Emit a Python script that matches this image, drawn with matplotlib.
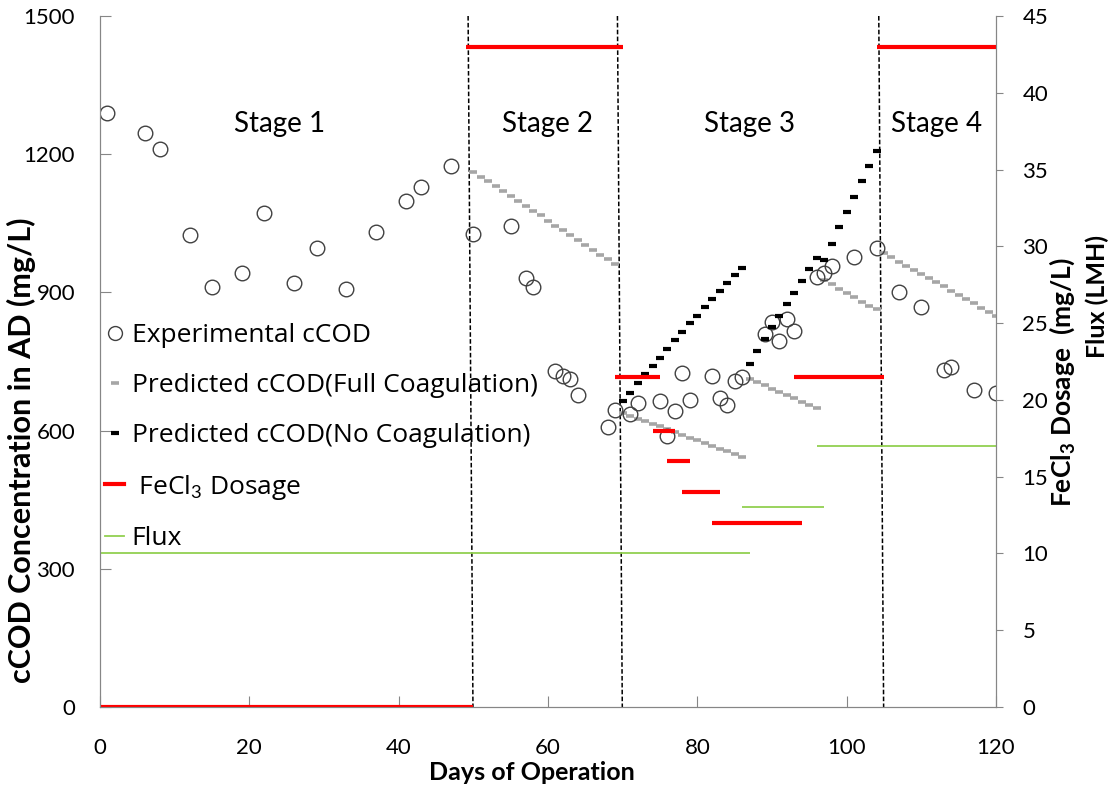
import matplotlib.pyplot as plt
from matplotlib.lines import Line2D

plt.rcParams['font.family'] = ['Lato', 'DejaVu Sans']
plt.rcParams['mathtext.fontset'] = 'custom'
plt.rcParams['mathtext.rm'] = 'Lato'
plt.rcParams['mathtext.bf'] = 'Lato:bold'

# measured cCOD in the AD effluent (mg/L)
exp_days = [1, 6, 8, 12, 15, 19, 22, 26, 29, 33, 37, 41, 43, 47, 50,
            55, 57, 58, 61, 62, 63, 64, 68, 69,
            71, 72, 75, 76, 77, 78, 79, 82, 83, 84, 85, 86,
            89, 90, 91, 92, 93, 96, 97, 98, 101, 104,
            107, 110, 113, 114, 117, 120]
exp_ccod = [1290, 1245, 1211, 1025, 912, 943, 1073, 920, 996, 907, 1031, 1099, 1128, 1175, 1027,
            1045, 931, 911, 729, 718, 713, 677, 608, 645,
            635, 660, 664, 588, 642, 724, 666, 719, 670, 655, 708, 717,
            810, 835, 794, 842, 816, 934, 943, 957, 977, 996,
            900, 868, 731, 738, 688, 681]

# predicted cCOD assuming full coagulation, one run per operating period
full_days = [
    list(range(50, 70)),
    list(range(70, 87)),
    list(range(87, 97)),
    list(range(97, 105)),
    list(range(105, 121)),
]
full_ccod = [
    [1162, 1151, 1141, 1130, 1120, 1109, 1098, 1088, 1077, 1067,
     1056, 1045, 1035, 1024, 1014, 1003, 993, 982, 972, 961],
    [638, 632, 626, 621, 615, 609, 603, 597, 591, 585, 579, 573, 567, 561, 555, 549, 543],
    [712, 705, 698, 691, 684, 677, 670, 663, 656, 649],
    [927, 918, 907, 899, 889, 880, 871, 863],
    [985, 976, 967, 958, 949, 940, 931, 922, 913, 904, 895, 885, 876, 867, 858, 849],
]

# predicted cCOD without coagulation
none_days = [
    list(range(70, 87)),
    list(range(87, 105)),
]
none_ccod = [
    [665, 682, 703, 722, 740, 758, 777, 796, 815, 833, 849, 868, 886, 902, 920, 938, 954],
    [744, 772, 799, 824, 849, 874, 899, 924, 951, 974, 970, 1004, 1041, 1074, 1108, 1142, 1174, 1208],
]

# FeCl3 dosage periods (mg/L)
fecl3_start = [0, 49, 69, 74, 76, 78, 82, 93, 104]
fecl3_end = [50, 70, 75, 77, 79, 83, 94, 105, 120]
fecl3_dose = [0, 43, 21.5, 18, 16, 14, 12, 21.5, 43]

# membrane flux periods (LMH)
flux_start = [0, 86, 96]
flux_end = [87, 97, 120]
flux_lmh = [10, 13, 17]

stage_bounds = [50, 70, 105]
stage_names = ['Stage 1', 'Stage 2', 'Stage 3', 'Stage 4']
stage_label_x = [24, 60, 87, 112]

axis_grey = '#868686'

fig = plt.figure(figsize=(11.16, 7.91), dpi=100)
ax = fig.add_axes([100 / 1116, 1 - 707 / 791, 896 / 1116, 691 / 791])
ax2 = ax.twinx()

for b in stage_bounds:
    ax.plot([b - 0.7, b - 0.05], [1500, 0], color='black', lw=1.1,
            linestyle=(0, (3, 1.5)), zorder=1)

ax.plot(exp_days, exp_ccod, ls='none', marker='o', ms=10.5, mfc='none',
        mec='#404040', mew=1.0, zorder=3)

for d, v in zip(full_days, full_ccod):
    ax.plot(d, v, ls='none', marker='_', ms=6, mew=2.6, color='#a6a6a6', zorder=2)
for d, v in zip(none_days, none_ccod):
    ax.plot(d, v, ls='none', marker='_', ms=5.5, mew=3.0, color='black', zorder=4)

ax2.hlines(fecl3_dose, fecl3_start, fecl3_end, colors='#ff0000', lw=3)
ax2.hlines(flux_lmh, flux_start, flux_end, colors='#92d050', lw=1.3)

for name, x in zip(stage_names, stage_label_x):
    ax.text(x, 1265, name, ha='center', va='center', fontsize=20)

ax.set_xlim(0, 120)
ax.set_ylim(0, 1500)
ax2.set_ylim(0, 45)
ax.set_xticks(range(0, 121, 20))
ax.set_yticks(range(0, 1501, 300))
ax2.set_yticks(range(0, 46, 5))

for a in (ax, ax2):
    a.spines['top'].set_visible(False)
    for s in ('left', 'right', 'bottom'):
        a.spines[s].set_color(axis_grey)
ax.tick_params(axis='x', direction='in', length=8, color=axis_grey, labelsize=16, pad=22)
ax.tick_params(axis='y', direction='in', length=8, color=axis_grey, labelsize=16, pad=18)
ax2.tick_params(axis='y', direction='out', length=5, color=axis_grey, labelsize=16, pad=14)

fig.text(21 / 1116, 1 - 450 / 791, 'cCOD Concentration in AD (mg/L)', rotation=90,
         ha='center', va='center', fontsize=22, fontweight='bold')
fig.text(532 / 1116, 1 - 773 / 791, 'Days of Operation', ha='center', va='center',
         fontsize=18, fontweight='bold')
fig.text(1062 / 1116, 1 - 382 / 791, r'FeCl$_\mathbf{3}$ Dosage  (mg/L)', rotation=90,
         ha='center', va='center', fontsize=19, fontweight='bold')
fig.text(1097 / 1116, 1 - 297 / 791, 'Flux (LMH)', rotation=90,
         ha='center', va='center', fontsize=18, fontweight='bold')

handles = [
    Line2D([], [], ls='none', marker='o', ms=10, mfc='none', mec='#404040', mew=1.0),
    Line2D([], [], ls='none', marker='_', ms=6, mew=2.6, color='#a6a6a6'),
    Line2D([], [], ls='none', marker='_', ms=5.5, mew=3.0, color='black'),
    Line2D([], [], color='#ff0000', lw=3),
    Line2D([], [], color='#92d050', lw=1.3),
]
labels = ['Experimental cCOD', 'Predicted cCOD(Full Coagulation)',
          'Predicted cCOD(No Coagulation)', r' FeCl$_3$ Dosage', 'Flux']
ax2.legend(handles, labels, loc='upper left', bbox_to_anchor=(0.0, 0.563),
           frameon=False, prop={'family': ['Open Sans', 'DejaVu Sans'], 'size': 19},
           handlelength=0.7, handletextpad=0.3,
           labelspacing=0.94, borderaxespad=0, borderpad=0.2)

fig.savefig('out.png', dpi=100)
